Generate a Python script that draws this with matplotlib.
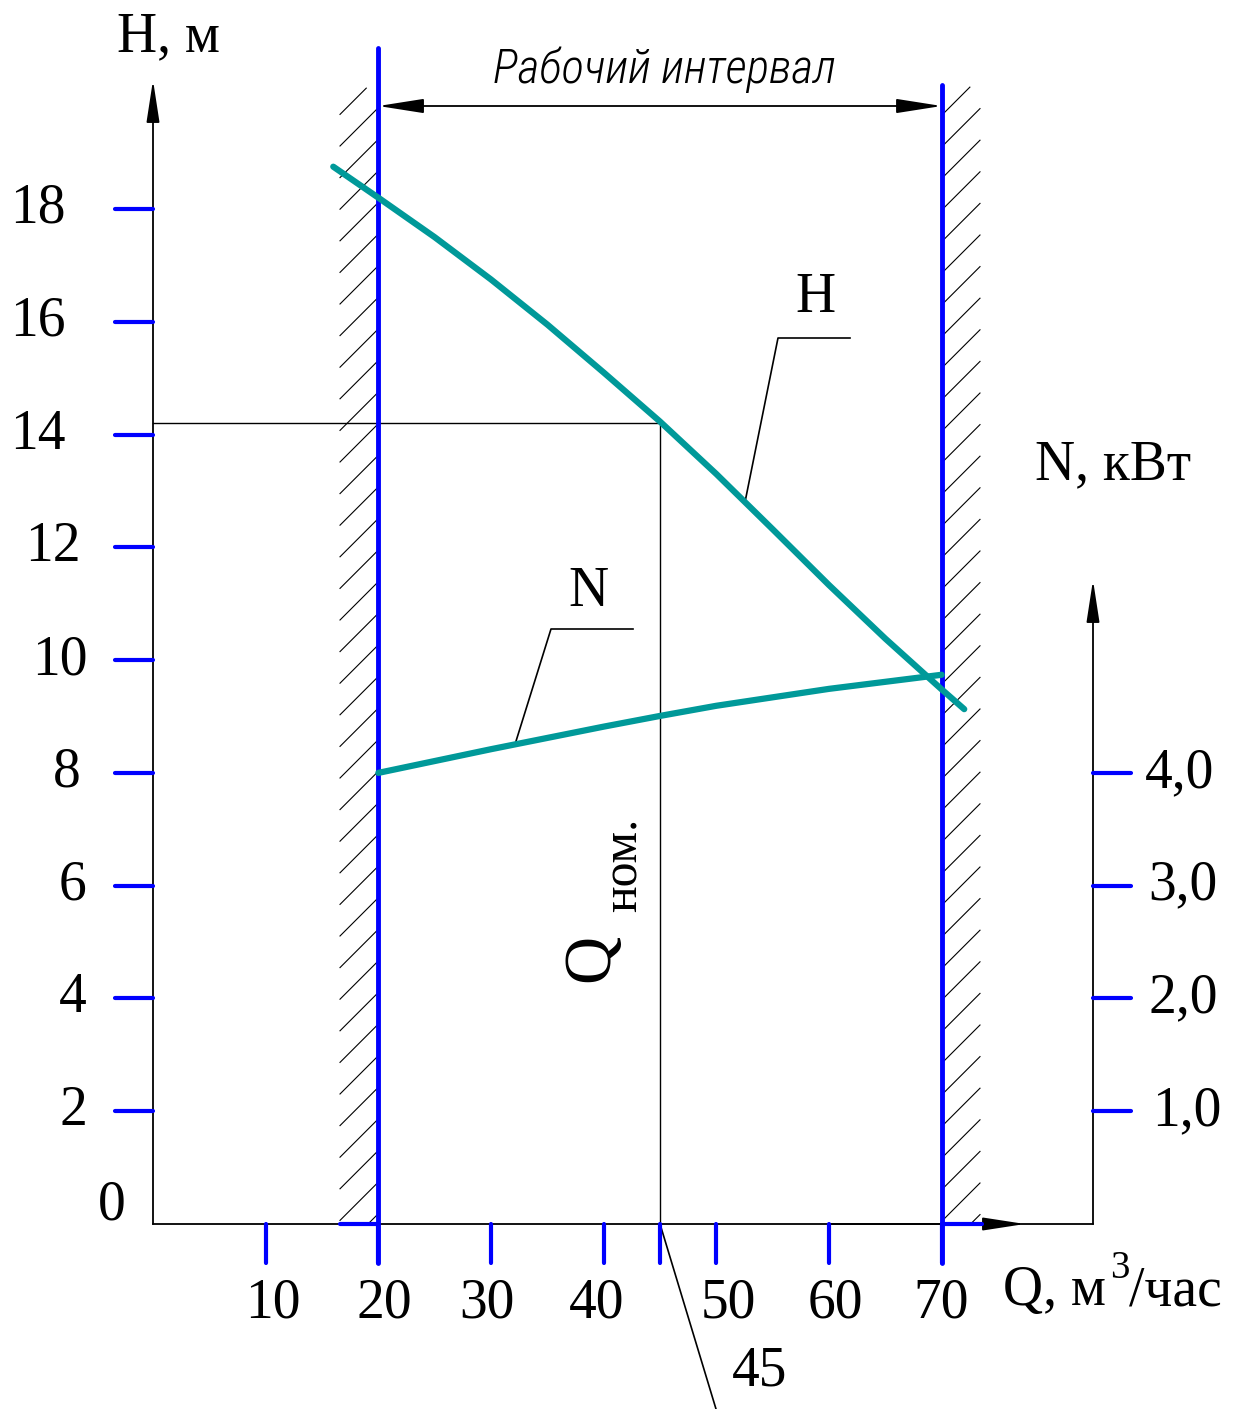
import matplotlib
matplotlib.use('Agg')
import matplotlib.pyplot as plt
import numpy as np

plt.rcParams['font.family'] = ['Liberation Serif', 'DejaVu Serif']

# --- данные (читаются с графика) ---
q_ticks = [10, 20, 30, 40, 45, 50, 60, 70]
q_labels = ['10', '20', '30', '40', '', '50', '60', '70']
h_ticks = [2, 4, 6, 8, 10, 12, 14, 16, 18]
n_ticks = [1, 2, 3, 4]
n_labels = ['1,0', '2,0', '3,0', '4,0']

# напорная характеристика H(Q)
q_h = [16, 20, 25, 30, 35, 40, 45, 50, 55, 60, 65, 70, 72]
h_vals = [18.75, 18.2, 17.5, 16.75, 15.95, 15.1, 14.23, 13.3, 12.32, 11.33, 10.38, 9.48, 9.13]

# мощность N(Q), кВт
q_n = [20, 30, 40, 45, 50, 60, 70]
n_vals = [4.0, 4.21, 4.41, 4.505, 4.595, 4.745, 4.87]

q_nom, h_nom = 45, 14.2
q_lo, q_hi = 20, 70

# --- геометрия листа (пиксели -> данные) ---
W, Hpx = 1237, 1409
X0, SX = 153, 11.267   # пиксель Q=0, пикселей на 1 м3/ч
Y0, SY = 1224, 56.39   # пиксель H=0, пикселей на 1 м


def P(px, py):
    return (px - X0) / SX, (Y0 - py) / SY


def dx(px):
    return px / SX


def dy(py):
    return py / SY


fig = plt.figure(figsize=(W / 100, Hpx / 100), dpi=100)
ax = fig.add_axes([0, 0, 1, 1])
ax.set_xlim(-X0 / SX, (W - X0) / SX)
ax.set_ylim((Y0 - Hpx) / SY, Y0 / SY)
ax.axis('off')
ax2 = ax.twinx()
ax2.set_ylim(np.array(ax.get_ylim()) / 2)
ax2.axis('off')

blue = '#0000ff'
teal = '#009999'
k = 'black'

q_right = P(1093, 0)[0]
arr = dict(color=k, lw=1.3, shrinkA=0, shrinkB=0, mutation_scale=40)
head = '-|>,head_length=0.65,head_width=0.1'

# оси
ax.annotate('', xy=(0, P(0, 80)[1]), xytext=(0, 0), arrowprops=dict(arrowstyle=head, **arr))
ax.plot([0, q_right], [0, 0], color=k, lw=1.3)
ax.annotate('', xy=(P(1025, 0)[0], 0), xytext=(60, 0), arrowprops=dict(arrowstyle=head, **arr))
ax.annotate('', xy=(q_right, P(0, 580)[1]), xytext=(q_right, 0),
            arrowprops=dict(arrowstyle=head, **arr))


# штриховка запрещённых зон (45 градусов на листе)
def hatch(x_a, x_b, y_top, y_ref, x_ref, step=31.6):
    for kk in range(-5, 45):
        c = y_ref + x_ref + kk * step
        pts = [(px_, c - px_) for px_ in np.linspace(x_a, x_b, 200)
               if y_top <= c - px_ <= Y0]
        if len(pts) > 1:
            qa, ha = P(*pts[0])
            qb, hb = P(*pts[-1])
            ax.plot([qa, qb], [ha, hb], color=k, lw=0.8, zorder=1)


hatch(340, 379, 88, 107, 379)
hatch(942, 980, 87, 115, 942)
ax.plot([P(340, 0)[0], q_lo], [0, 0], color=blue, lw=3, zorder=3, solid_capstyle='round')
ax.plot([q_hi, P(982, 0)[0]], [0, 0], color=blue, lw=3, zorder=3, solid_capstyle='round')

# размерная линия "Рабочий интервал"
y_dim = P(0, 106)[1]
ax.plot([q_lo, q_lo], [P(0, 90)[1], P(0, 170)[1]], color=k, lw=1.3, zorder=1)
ax.plot([q_hi, q_hi], [P(0, 90)[1], P(0, 168)[1]], color=k, lw=1.3, zorder=1)
ax.annotate('', xy=(q_hi, y_dim), xytext=(q_lo, y_dim),
            arrowprops=dict(arrowstyle='<|-|>,head_length=0.7,head_width=0.11', **arr))
ax.text(*P(664, 70), 'Рабочий интервал', ha='center', va='center', fontsize=34,
        style='italic', fontstretch='condensed', fontweight='light',
        family=['Roboto Condensed', 'Liberation Sans Narrow', 'Liberation Sans'])

# границы рабочего интервала
ax.plot([q_lo, q_lo], [P(0, 48)[1], -dy(39)], color=blue, lw=3.5, zorder=4, solid_capstyle='round')
ax.plot([q_hi, q_hi], [P(0, 85)[1], -dy(39)], color=blue, lw=3.5, zorder=4, solid_capstyle='round')

# засечки
for q in q_ticks:
    ax.plot([q, q], [0, -dy(39)], color=blue, lw=3, zorder=4, solid_capstyle='round')
for h in h_ticks:
    ax.plot([-dx(38), 0], [h, h], color=blue, lw=3, zorder=4, solid_capstyle='round')
for n in n_ticks:
    ax2.plot([q_right, q_right + dx(38)], [n, n], color=blue, lw=3, zorder=4,
             solid_capstyle='round')

# подписи засечек
fs = 40
q_shift = [7, 6, -4, -7, 0, 12, 6, -1]
for q, lab, s in zip(q_ticks, q_labels, q_shift):
    if lab:
        ax.text(q + dx(s), P(0, 1303)[1], lab, ha='center', va='center', fontsize=fs)
h_cx = [73, 73, 73, 67, 60, 53, 38, 38, 38]
for h, cx in zip(h_ticks, h_cx):
    ax.text(P(cx, 0)[0], h, str(h), ha='center', va='center', fontsize=fs)
ax.text(*P(112, 1205), '0', ha='center', va='center', fontsize=fs)
n_cx = [1187, 1183, 1183, 1180]
for n, lab, cx in zip(n_ticks, n_labels, n_cx):
    ax2.text(P(cx, 0)[0], n, lab, ha='center', va='center', fontsize=fs)

# подписи осей
ax.text(*P(168, 37), 'H, м', ha='center', va='center', fontsize=fs)
ax.text(*P(1113, 465), 'N, кВт', ha='center', va='center', fontsize=fs)
ax.text(*P(1003, 1305), 'Q, м', ha='left', va='baseline', fontsize=fs)
ax.text(*P(1110, 1278), '3', ha='left', va='baseline', fontsize=28)
ax.text(*P(1129, 1305), '/час', ha='left', va='baseline', fontsize=fs)

# номинальная точка
ax.plot([0, q_nom], [h_nom, h_nom], color=k, lw=1.0, zorder=2)
ax.plot([q_nom, q_nom], [0, h_nom], color=k, lw=1.0, zorder=2)
ax.text(*P(592, 958), 'Q', rotation=90, ha='center', va='center', fontsize=48)
ax.text(*P(624, 865), 'ном.', rotation=90, ha='center', va='center', fontsize=36)
ax.plot([q_nom, P(716, 0)[0]], [0, P(0, 1409)[1]], color=k, lw=1.2)
ax.text(*P(760, 1372), '45', ha='center', va='center', fontsize=fs)

# кривые
ax.plot(q_h, h_vals, color=teal, lw=4.5, zorder=5, solid_capstyle='round')
ax2.plot(q_n, n_vals, color=teal, lw=4.5, zorder=5, solid_capstyle='round')

# выноски
qa = P(745, 0)[0]
ha_ = np.interp(qa, q_h, h_vals)
ax.plot([qa, P(778, 0)[0], P(850, 0)[0]], [ha_, P(0, 338)[1], P(0, 338)[1]], color=k, lw=1.2)
ax.text(*P(815, 298), 'H', ha='center', va='center', fontsize=fs)

qb = P(515, 0)[0]
nb = np.interp(qb, q_n, n_vals) * 2
ax.plot([qb, P(551, 0)[0], P(633, 0)[0]], [nb, P(0, 629)[1], P(0, 629)[1]], color=k, lw=1.2)
ax.text(*P(588, 592), 'N', ha='center', va='center', fontsize=fs)

fig.savefig('out.png', dpi=100, facecolor='white')
